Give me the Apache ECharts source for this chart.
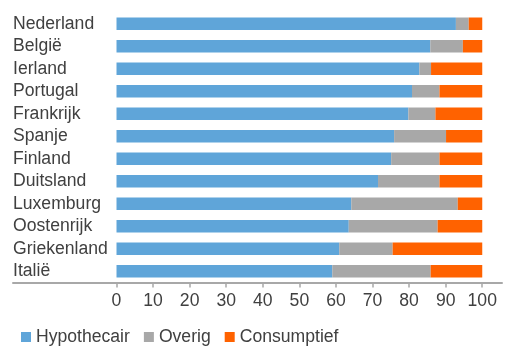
<!DOCTYPE html>
<html><head><meta charset="utf-8">
<script src="https://cdn.jsdelivr.net/npm/echarts@6/dist/echarts.min.js"></script>
<style>html,body{margin:0;padding:0;background:#fff}#c{width:515px;height:363px}</style>
</head><body><div id="c"></div>
<script>
const categories = ['Nederland','België','Ierland','Portugal','Frankrijk','Spanje','Finland','Duitsland','Luxemburg','Oostenrijk','Griekenland','Italië'];
const hypothecair = [92.8, 85.8, 82.8, 80.8, 79.8, 75.9, 75.1, 71.5, 64.2, 63.5, 60.9, 59.0];
const overig =      [3.5, 8.9, 3.2, 7.5, 7.4, 14.2, 13.2, 16.8, 29.1, 24.3, 14.6, 26.9];
const consumptief = [3.7, 5.3, 14.0, 11.7, 12.8, 9.9, 11.7, 11.7, 6.7, 12.2, 24.5, 14.1];
const tickValues = [0,10,20,30,40,50,60,70,80,90,100];

const FONT = 'Liberation Sans';
const TXT = '#404040';
const FS = 17.6;
const chart = echarts.init(document.getElementById('c'), null, {renderer:'canvas'});
chart.setOption({
  animation: false,
  textStyle: {fontFamily: FONT},
  grid: {left: 13, right: 13, top: 12.5, height: 270, containLabel: false},
  legend: {
    left: 16, top: 323, itemWidth: 10, itemHeight: 10, itemGap: 14, icon: 'rect',
    textStyle: {fontFamily: FONT, fontSize: FS, color: TXT},
    data: ['Hypothecair','Overig','Consumptief']
  },
  xAxis: {
    type: 'value', min: -28.3, max: 105.4,
    splitLine: {show: false},
    axisLine: {show: true, lineStyle: {color: '#a8a8a8', width: 2}},
    axisTick: {show: true, customValues: tickValues, length: 5, lineStyle: {color: '#a8a8a8', width: 1.5}},
    axisLabel: {customValues: tickValues, fontFamily: FONT, fontSize: FS, color: TXT, margin: 10}
  },
  yAxis: {
    type: 'category', data: categories, inverse: true,
    axisLine: {show: false}, axisTick: {show: false},
    axisLabel: {interval: 0, hideOverlap: false, align: 'left', margin: 0, fontFamily: FONT, fontSize: FS, color: TXT}
  },
  series: [
    {name: 'Hypothecair', type: 'bar', stack: 'a', data: hypothecair, barWidth: 12.5, itemStyle: {color: '#5fa5d9'}},
    {name: 'Overig', type: 'bar', stack: 'a', data: overig, barWidth: 12.5, itemStyle: {color: '#a8a8a8'}},
    {name: 'Consumptief', type: 'bar', stack: 'a', data: consumptief, barWidth: 12.5, itemStyle: {color: '#ff6200'}}
  ]
});
</script></body></html>
